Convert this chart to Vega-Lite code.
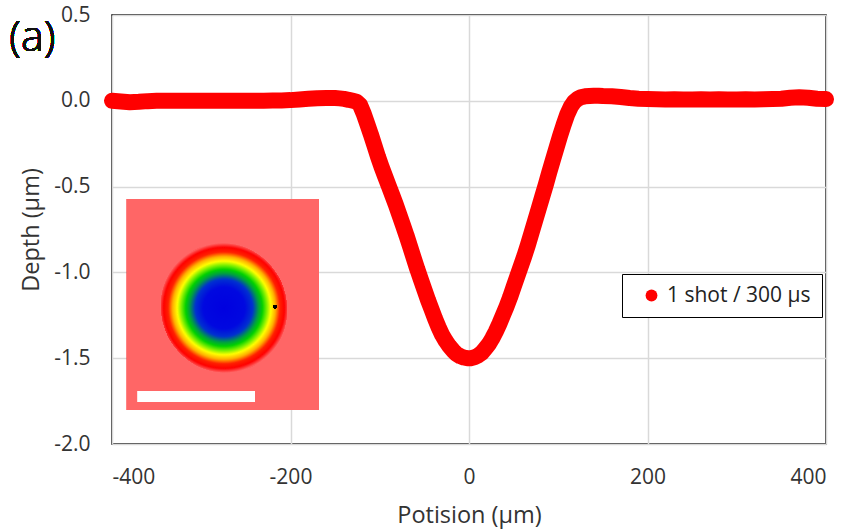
{
  "$schema": "https://vega.github.io/schema/vega-lite/v6.json",
  "width": 714,
  "height": 429,
  "autosize": {"type": "none"},
  "padding": {"left": 112, "top": 15, "right": 23, "bottom": 87},
  "background": "white",
  "data": {
    "values": [
      {"x": -400, "d": 0.0}, {"x": -390, "d": -0.004}, {"x": -380, "d": -0.008}, {"x": -370, "d": -0.006},
      {"x": -360, "d": -0.002}, {"x": -350, "d": 0.0}, {"x": -340, "d": 0.0}, {"x": -330, "d": 0.001},
      {"x": -320, "d": 0.0}, {"x": -310, "d": 0.001}, {"x": -300, "d": 0.0}, {"x": -290, "d": 0.0},
      {"x": -280, "d": 0.001}, {"x": -270, "d": 0.0}, {"x": -260, "d": 0.001}, {"x": -250, "d": 0.0},
      {"x": -240, "d": 0.001}, {"x": -230, "d": 0.001}, {"x": -220, "d": 0.002}, {"x": -210, "d": 0.002},
      {"x": -200, "d": 0.004}, {"x": -190, "d": 0.008}, {"x": -180, "d": 0.012}, {"x": -170, "d": 0.015},
      {"x": -160, "d": 0.016}, {"x": -150, "d": 0.016}, {"x": -145, "d": 0.014}, {"x": -140, "d": 0.011},
      {"x": -135, "d": 0.006}, {"x": -130, "d": 0.0}, {"x": -126, "d": -0.005}, {"x": -122, "d": -0.025},
      {"x": -118, "d": -0.075}, {"x": -114, "d": -0.135}, {"x": -110, "d": -0.195}, {"x": -106, "d": -0.26},
      {"x": -102, "d": -0.325}, {"x": -98, "d": -0.385}, {"x": -94, "d": -0.44}, {"x": -90, "d": -0.495},
      {"x": -86, "d": -0.55}, {"x": -82, "d": -0.605}, {"x": -78, "d": -0.665}, {"x": -74, "d": -0.725},
      {"x": -70, "d": -0.785}, {"x": -66, "d": -0.85}, {"x": -62, "d": -0.915}, {"x": -58, "d": -0.98},
      {"x": -54, "d": -1.04}, {"x": -50, "d": -1.1}, {"x": -46, "d": -1.16}, {"x": -42, "d": -1.215},
      {"x": -38, "d": -1.27}, {"x": -34, "d": -1.32}, {"x": -30, "d": -1.365}, {"x": -26, "d": -1.4},
      {"x": -22, "d": -1.43}, {"x": -18, "d": -1.455}, {"x": -14, "d": -1.475}, {"x": -10, "d": -1.488},
      {"x": -6, "d": -1.496}, {"x": -2, "d": -1.5}, {"x": 2, "d": -1.5}, {"x": 6, "d": -1.495},
      {"x": 10, "d": -1.485}, {"x": 14, "d": -1.47}, {"x": 18, "d": -1.445}, {"x": 22, "d": -1.42},
      {"x": 26, "d": -1.385}, {"x": 30, "d": -1.345}, {"x": 34, "d": -1.3}, {"x": 38, "d": -1.25},
      {"x": 42, "d": -1.2}, {"x": 46, "d": -1.145}, {"x": 50, "d": -1.085}, {"x": 54, "d": -1.025},
      {"x": 58, "d": -0.965}, {"x": 62, "d": -0.905}, {"x": 66, "d": -0.84}, {"x": 70, "d": -0.77},
      {"x": 74, "d": -0.7}, {"x": 78, "d": -0.63}, {"x": 82, "d": -0.56}, {"x": 86, "d": -0.49},
      {"x": 90, "d": -0.415}, {"x": 94, "d": -0.345}, {"x": 98, "d": -0.275}, {"x": 102, "d": -0.205},
      {"x": 106, "d": -0.14}, {"x": 110, "d": -0.08}, {"x": 114, "d": -0.035}, {"x": 118, "d": -0.005},
      {"x": 122, "d": 0.012}, {"x": 126, "d": 0.022}, {"x": 130, "d": 0.026}, {"x": 135, "d": 0.028},
      {"x": 140, "d": 0.03}, {"x": 145, "d": 0.03}, {"x": 150, "d": 0.028}, {"x": 160, "d": 0.026},
      {"x": 170, "d": 0.022}, {"x": 180, "d": 0.016}, {"x": 190, "d": 0.012}, {"x": 200, "d": 0.01},
      {"x": 210, "d": 0.009}, {"x": 220, "d": 0.008}, {"x": 230, "d": 0.009}, {"x": 240, "d": 0.008},
      {"x": 250, "d": 0.008}, {"x": 260, "d": 0.009}, {"x": 270, "d": 0.008}, {"x": 280, "d": 0.009},
      {"x": 290, "d": 0.008}, {"x": 300, "d": 0.008}, {"x": 310, "d": 0.009}, {"x": 320, "d": 0.008},
      {"x": 330, "d": 0.009}, {"x": 340, "d": 0.01}, {"x": 350, "d": 0.012}, {"x": 360, "d": 0.018},
      {"x": 370, "d": 0.02}, {"x": 380, "d": 0.018}, {"x": 390, "d": 0.012}, {"x": 400, "d": 0.01}
    ]
  },
  "layer": [
    {
      "mark": {"type": "rect", "fill": "#ff6666"},
      "encoding": {
        "x": {"datum": -383.2, "type": "quantitative"},
        "x2": {"datum": -168.1},
        "y": {"datum": -0.572, "type": "quantitative"},
        "y2": {"datum": -1.802}
      }
    },
    {
      "mark": {
        "type": "point",
        "filled": true,
        "opacity": 1,
        "shape": "M-0.96,0 A0.96,1 0 1,1 0.96,0 A0.96,1 0 1,1 -0.96,0 Z",
        "size": 16900,
        "angle": -25,
        "fill": {
          "gradient": "radial",
          "x1": 0.5, "y1": 0.5, "r1": 0,
          "x2": 0.5, "y2": 0.5, "r2": 0.5,
          "stops": [
            {"offset": 0, "color": "#0000e0"},
            {"offset": 0.32, "color": "#0008e0"},
            {"offset": 0.44, "color": "#0030d0"},
            {"offset": 0.53, "color": "#00a040"},
            {"offset": 0.59, "color": "#00d000"},
            {"offset": 0.66, "color": "#80f000"},
            {"offset": 0.72, "color": "#ffff00"},
            {"offset": 0.79, "color": "#ffb000"},
            {"offset": 0.86, "color": "#ff2000"},
            {"offset": 0.93, "color": "#ff0000"},
            {"offset": 1, "color": "#ff6666"}
          ]
        }
      },
      "encoding": {
        "x": {"datum": -274.5, "type": "quantitative"},
        "y": {"datum": -1.207, "type": "quantitative"}
      }
    },
    {
      "mark": {"type": "point", "filled": true, "color": "black", "opacity": 1, "size": 10},
      "encoding": {
        "x": {"datum": -217.4, "type": "quantitative"},
        "y": {"datum": -1.2, "type": "quantitative"}
      }
    },
    {
      "mark": {"type": "rect", "fill": "white"},
      "encoding": {
        "x": {"datum": -370.9, "type": "quantitative"},
        "x2": {"datum": -239.8},
        "y": {"datum": -1.691, "type": "quantitative"},
        "y2": {"datum": -1.755}
      }
    },
    {
      "mark": {
        "type": "text",
        "text": "(a)",
        "align": "left",
        "baseline": "alphabetic",
        "font": "Open Sans",
        "fontSize": 43,
        "fontWeight": 300,
        "fill": "#111111",
        "clip": false
      },
      "encoding": {
        "x": {"datum": -515, "type": "quantitative"},
        "y": {"datum": 0.29, "type": "quantitative"}
      }
    },
    {
      "mark": {"type": "line", "color": "#ff0000", "strokeWidth": 16, "strokeCap": "round", "strokeJoin": "round"},
      "encoding": {
        "x": {"field": "x", "type": "quantitative"},
        "y": {"field": "d", "type": "quantitative"}
      }
    },
    {
      "mark": {"type": "point", "filled": true, "opacity": 1, "size": 200},
      "encoding": {
        "x": {
          "field": "x",
          "type": "quantitative",
          "scale": {"domain": [-400, 400], "nice": false, "zero": false},
          "axis": {
            "title": "Potision (µm)",
            "values": [-400, -200, 0, 200, 400],
            "format": "d",
            "labelPadding": 22,
            "titlePadding": 16
          }
        },
        "y": {
          "field": "d",
          "type": "quantitative",
          "scale": {"domain": [-2, 0.5], "nice": false, "zero": false},
          "axis": {
            "title": "Depth (µm)",
            "values": [-2, -1.5, -1, -0.5, 0, 0.5],
            "format": ".1f",
            "labelPadding": 22,
            "titlePadding": 10
          }
        },
        "color": {
          "datum": "1 shot / 300 µs",
          "scale": {"range": ["#ff0000"]},
          "legend": {
            "orient": "none",
            "legendX": 510,
            "legendY": 259,
            "title": null,
            "labelFont": "Open Sans",
            "labelFontSize": 21,
            "labelColor": "#222222",
            "labelOffset": 5,
            "labelLimit": 300,
            "symbolType": "circle",
            "symbolSize": 140,
            "symbolStrokeWidth": 0,
            "symbolOffset": 8,
            "padding": 11,
            "strokeColor": "black",
            "fillColor": "white",
            "encode": {"legend": {"update": {"strokeWidth": {"value": 2}}}}
          }
        }
      }
    }
  ],
  "config": {
    "locale": {
      "number": {"decimal": ".", "thousands": ",", "grouping": [3], "currency": ["$", ""], "minus": "-"}
    },
    "view": {"stroke": "black", "strokeWidth": 1.5},
    "axis": {
      "grid": true,
      "gridColor": "#d9d9d9",
      "gridWidth": 1.5,
      "ticks": false,
      "domain": false,
      "labelFont": "Open Sans",
      "labelFontSize": 21,
      "labelColor": "#333333",
      "titleFont": "Open Sans",
      "titleFontSize": 23.5,
      "titleFontWeight": "normal",
      "titleColor": "#333333"
    }
  }
}
